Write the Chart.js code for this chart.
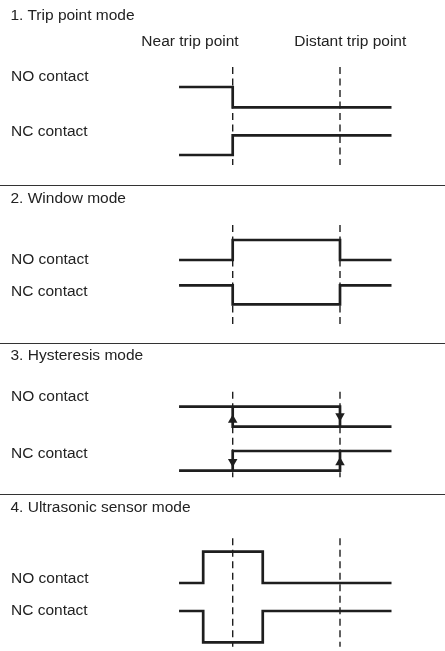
<!DOCTYPE html>
<html>
<head>
<meta charset="utf-8">
<script src="https://cdn.jsdelivr.net/npm/chart.js@4/dist/chart.umd.min.js"></script>
<style>
  html, body { margin: 0; padding: 0; background: #fff; }
  #wrap { position: relative; width: 445px; height: 651px; overflow: hidden; }
  #diagram { position: absolute; left: 0; top: 0; }
  .txt { position: absolute; font-family: "Liberation Sans", Arial, sans-serif; font-size: 15.5px; line-height: 20px; color: #222; white-space: nowrap; }
  .center { transform: translateX(-50%); }
  .rule { position: absolute; left: 0; width: 445px; height: 0; border-top: 1.5px solid #333; }
</style>
</head>
<body>
<div id="wrap">
  <canvas id="diagram" width="445" height="651"></canvas>
</div>
<script>
// --- data: distance along the travel axis (near trip point = 1, distant = 3), contact level 0/1
const modeTitles = ['1. Trip point mode', '2. Window mode', '3. Hysteresis mode', '4. Ultrasonic sensor mode'];
const contactNames = ['NO contact', 'NC contact'];
const tripPointNames = ['Near trip point', 'Distant trip point'];
const tripPoints = [1, 3];

const tripX = [0, 1, 1, 3.96];
const tripNO = [1, 1, 0, 0];
const tripNC = [0, 0, 1, 1];

const windowX = [0, 1, 1, 3, 3, 3.96];
const windowNO = [0, 0, 1, 1, 0, 0];
const windowNC = [1, 1, 0, 0, 1, 1];

// null splits a path in two
const hystX = [0, 3, 3, 3.96, null, 1, 1, 3];
const hystNO = [1, 1, 0, 0, null, 1, 0, 0];
const hystNC = [0, 0, 1, 1, null, 0, 1, 1];
const hystArrowX = [1, 3];
const hystArrowNO = [0.33, 0.54];
const hystArrowNC = [0.46, 0.41];
const hystArrowUpNO = [true, false];
const hystArrowUpNC = [false, true];

const ultraX = [0, 0.45, 0.45, 1.56, 1.56, 3.96];
const ultraNO = [0, 0, 1, 1, 0, 0];
const ultraNC = [1, 1, 0, 0, 1, 1];

// --- layout (pixels)
const W = 445, H = 651;
const X0 = 179.05, UNIT = 53.65;
const panels = [
  { title: 20.7, labels: [81.3, 136.7], no: [107.3, 87], nc: [155, 135.3], dash: [67, 165], rule: null },
  { title: 203.3, labels: [264, 296], no: [260, 240], nc: [304.3, 285.3], dash: [225, 326.7], rule: 184.6 },
  { title: 360.7, labels: [401, 458.3], no: [426.7, 406.7], nc: [470.7, 451], dash: [391.7, 477.3], rule: 343.3 },
  { title: 512.3, labels: [583.3, 615], no: [583, 551.7], nc: [642.3, 611], dash: [538.3, 646.7], rule: 494.3 }
];
const signals = [[tripX, tripNO, tripNC], [windowX, windowNO, windowNC], [hystX, hystNO, hystNC], [ultraX, ultraNO, ultraNC]];
const INK = '#1e1e1e';

function toPoints(xs, ys, row) {
  let lastX = 0;
  return xs.map((x, i) => {
    if (x === null) return { x: lastX, y: null };
    lastX = x;
    return { x: x, y: row[0] - ys[i] * (row[0] - row[1]) };
  });
}

const datasets = [];
panels.forEach((p, i) => {
  const [xs, no, nc] = signals[i];
  [[no, p.no], [nc, p.nc]].forEach(([ys, row]) => {
    datasets.push({
      data: toPoints(xs, ys, row),
      borderColor: INK, borderWidth: 2.7, pointRadius: 0,
      borderCapStyle: 'butt', borderJoinStyle: 'miter', tension: 0, order: 1
    });
  });
  tripPoints.forEach(tx => {
    datasets.push({
      data: [{ x: tx, y: p.dash[0] }, { x: tx, y: p.dash[1] }],
      borderColor: INK, borderWidth: 1.4, borderDash: [7, 4.5], pointRadius: 0, order: 2
    });
  });
});

// hysteresis arrow heads
[[hystArrowNO, hystArrowUpNO, panels[2].no], [hystArrowNC, hystArrowUpNC, panels[2].nc]].forEach(([lv, up, row]) => {
  datasets.push({
    data: toPoints(hystArrowX, lv, row),
    showLine: false, pointStyle: 'triangle', pointRadius: 5.5,
    pointRotation: up.map(u => u ? 0 : 180),
    pointBackgroundColor: INK, pointBorderWidth: 0, order: 0
  });
});

new Chart(document.getElementById('diagram'), {
  type: 'line',
  data: { datasets: datasets },
  options: {
    responsive: false, animation: false, events: [],
    layout: { padding: 0, autoPadding: false },
    plugins: { legend: { display: false }, tooltip: { enabled: false } },
    scales: {
      x: { type: 'linear', display: false, min: -X0 / UNIT, max: (W - X0) / UNIT },
      y: { type: 'linear', display: false, min: 0, max: H, reverse: true }
    }
  }
});

// --- text and rules
const wrap = document.getElementById('wrap');
function addText(str, left, baseline, centered) {
  const d = document.createElement('div');
  d.className = 'txt' + (centered ? ' center' : '');
  d.textContent = str;
  d.style.left = left + 'px';
  d.style.top = (baseline - 15.4) + 'px';
  wrap.appendChild(d);
}
panels.forEach((p, i) => {
  addText(modeTitles[i], 10.5, p.title);
  contactNames.forEach((n, j) => addText(n, 11, p.labels[j]));
  if (p.rule !== null) {
    const r = document.createElement('div');
    r.className = 'rule';
    r.style.top = p.rule + 'px';
    wrap.appendChild(r);
  }
});
addText(tripPointNames[0], 190, 46, true);
addText(tripPointNames[1], 350.3, 46, true);
</script>
</body>
</html>
